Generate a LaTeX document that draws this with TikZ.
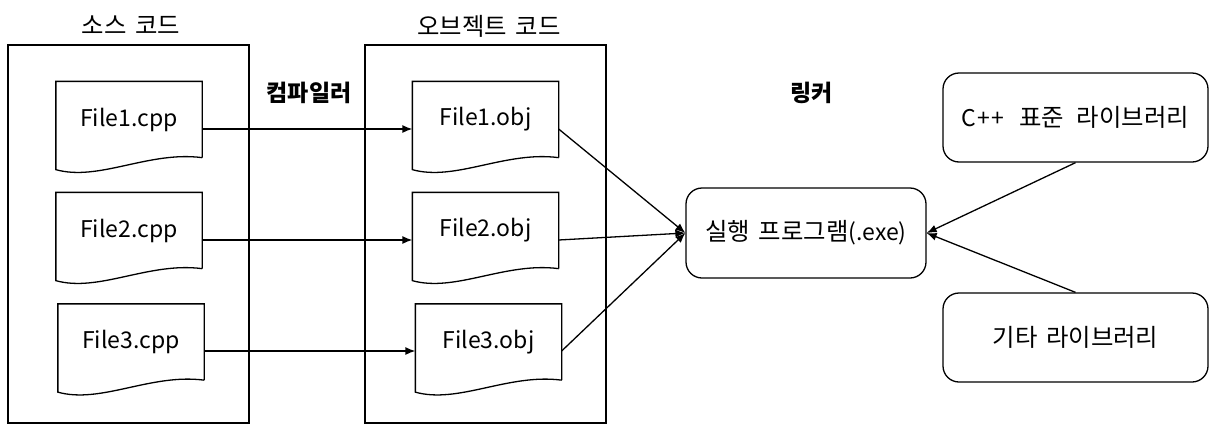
\documentclass[tikz,border=0pt]{standalone}
\usepackage{fontspec}
\setmainfont{Noto Sans CJK KR}
\newfontfamily\kr[Scale=1.06,WordSpace=1.6]{Noto Sans CJK KR}
\usetikzlibrary{arrows.meta,calc}
\newcommand\docoutline[1]{%
  \draw (#1.south east) -- (#1.north east) -- (#1.north west) -- ([yshift=-12pt]#1.south west)
    .. controls ([xshift=43pt,yshift=-24pt]#1.south west) and ([xshift=93pt,yshift=7pt]#1.south west) .. (#1.south east);}
\begin{document}
\begin{tikzpicture}[x=1pt,y=-1pt,
  line width=1.3pt,
  txt/.style={font=\fontsize{23}{27}\selectfont},
  frame/.style={draw, minimum width=241pt, minimum height=378pt, inner sep=0pt},
  docnode/.style={txt, minimum width=145pt, minimum height=75pt, inner sep=0pt},
  rbox/.style={txt, draw, rounded corners=16pt, inner sep=0pt},
  title/.style={txt, inner sep=0pt},
  blabel/.style={font=\bfseries\fontsize{23}{27}\selectfont, inner sep=0pt},
  arr/.style={-{Latex[length=10pt,width=8pt]}}
]
\useasboundingbox (0,0) rectangle (1218,429);
% frames
\node[frame] (b1) at (128.5,234) {};
\node[frame] (b2) at (485.5,234) {};
\node[title] (t1) at (131,25) {\kr 소스 코드};
\node[title] (t2) at (489,26) {\kr 오브젝트 코드};
% documents
\node[docnode] (c1) at (129,119.5) {File1.cpp};
\node[docnode] (c2) at (129,230.5) {File2.cpp};
\node[docnode] (c3) at (131,342) {File3.cpp};
\node[docnode] (o1) at (485.5,119.5) {File1.obj};
\node[docnode] (o2) at (485.5,230.5) {File2.obj};
\node[docnode] (o3) at (488.5,342) {File3.obj};
\foreach \n in {c1,c2,c3,o1,o2,o3} {\docoutline{\n}}
% labels
\node[blabel] (comp) at (309,93) {컴파일러};
\node[blabel] (link) at (811.5,93) {링커};
% rounded boxes
\node[rbox, minimum width=240pt, minimum height=90pt] (exe) at (806,233) {{\kr 실행 프로그램}(.exe)};
\node[rbox, minimum width=265pt, minimum height=89pt] (lib1) at (1075.5,117.5) {C{\kern1pt+\kern1pt+}\hspace{15pt}{\kr 표준\hspace{13pt}라이브러리}};
\node[rbox, minimum width=265pt, minimum height=89pt] (lib2) at (1075.5,337.5) {\kr 기타 라이브러리};
% connectors
\draw[arr] ([yshift=-9.5pt]c1.east) -- ([yshift=-9.5pt]o1.west);
\draw[arr] ([yshift=-9.5pt]c2.east) -- ([yshift=-9.5pt]o2.west);
\draw[arr] ([yshift=-9pt]c3.east) -- ([yshift=-9pt]o3.west);
\draw[arr] ([yshift=-9.5pt]o1.east) -- (exe.west);
\draw[arr] ([yshift=-9.5pt]o2.east) -- (exe.west);
\draw[arr] ([yshift=-9pt]o3.east) -- (exe.west);
\draw[arr] (lib1.south) -- (exe.east);
\draw[arr] (lib2.north) -- (exe.east);
\end{tikzpicture}
\end{document}
